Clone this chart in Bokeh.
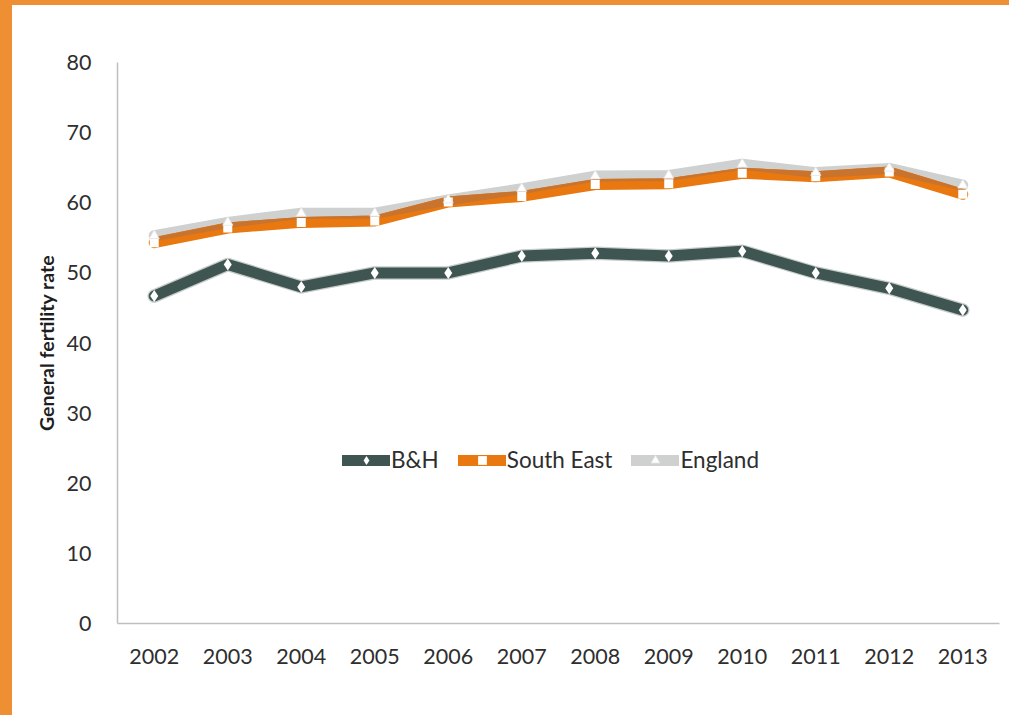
import numpy as np
from bokeh.plotting import figure
from bokeh.models import (ColumnDataSource, FactorRange, Range1d, Legend,
                          LegendItem, Div)
from bokeh.layouts import row, column
from bokeh.embed import file_html
from bokeh.resources import INLINE

# General fertility rate by year
years = ["2002", "2003", "2004", "2005", "2006", "2007",
         "2008", "2009", "2010", "2011", "2012", "2013"]
bh = [46.7, 51.2, 48.0, 50.0, 50.0, 52.4, 52.8, 52.4, 53.1, 50.0, 47.8, 44.7]
south_east = [54.3, 56.4, 57.2, 57.4, 60.1, 60.9, 62.6, 62.7, 64.2, 63.7, 64.4, 61.2]
england = [55.3, 57.2, 58.5, 58.5, 60.4, 62.0, 63.8, 63.9, 65.5, 64.3, 64.9, 62.5]
y_ticks = [0, 10, 20, 30, 40, 50, 60, 70, 80]

ORANGE_FRAME = "#ef8f34"
DARK = "#3f5551"
ORANGE = "#e8780f"
BROWN = "#c8742f"
GREY = "#cfd0d0"
FONT = "Lato"

W, H = 997, 710
B_LEFT, B_TOP, B_BOTTOM, B_RIGHT = 105, 57, 92, 10
LINE_W = 11

p = figure(width=W, height=H, x_range=FactorRange(*years, range_padding=0),
           y_range=Range1d(0, 80), output_backend="svg", toolbar_location=None,
           min_border_left=B_LEFT, min_border_top=B_TOP,
           min_border_bottom=B_BOTTOM, min_border_right=B_RIGHT, margin=0)
p.outline_line_color = None
p.xgrid.grid_line_color = None
p.ygrid.grid_line_color = None
p.background_fill_color = "white"
p.border_fill_color = "white"

src = ColumnDataSource(dict(year=years, bh=bh, se=south_east, eng=england))

# band where the England and South East lines overlap, in data units
px_per_unit = (H - B_TOP - B_BOTTOM) / 80.0
hw = (LINE_W / 2) / px_per_unit
se_arr = np.array(south_east)
eng_arr = np.array(england)
src.data["ov_lo"] = list(eng_arr - hw)
src.data["ov_hi"] = list(se_arr + hw)

eng_line = p.line("year", "eng", source=src, line_color=GREY, line_width=LINE_W,
                  line_join="round", line_cap="round")
se_line = p.line("year", "se", source=src, line_color=ORANGE, line_width=LINE_W,
                 line_join="round", line_cap="round")
p.varea(x="year", y1="ov_lo", y2="ov_hi", source=src, fill_color=BROWN)
se_pts = p.scatter("year", "se", source=src, marker="square", size=9,
                   fill_color="white", line_color=None)
eng_pts = p.scatter("year", "eng", source=src, marker="triangle", size=10,
                    fill_color="white", line_color="#e6e6e6", line_width=0.8)

# soft edge under the B&H line
p.line("year", "bh", source=src, line_color="#c6cccb", line_width=LINE_W + 2.5,
       line_join="round", line_cap="round")
bh_line = p.line("year", "bh", source=src, line_color=DARK, line_width=LINE_W,
                 line_join="round", line_cap="round")
bh_pts = p.scatter("year", "bh", source=src, marker="diamond", size=12,
                   fill_color="white", line_color=None)

for ax in (p.xaxis[0], p.yaxis[0]):
    ax.axis_line_color = "#bfbfbf"
    ax.axis_line_width = 1.5
    ax.major_tick_line_color = None
    ax.minor_tick_line_color = None
    ax.major_label_text_font = FONT
    ax.major_label_text_font_size = "21.5px"
    ax.major_label_text_color = "#2e2e2e"

p.yaxis.ticker = y_ticks
p.yaxis.major_label_standoff = 20
p.xaxis.major_label_standoff = 19
p.yaxis.axis_label = "General fertility rate"
p.yaxis.axis_label_text_font = FONT
p.yaxis.axis_label_text_font_size = "19.5px"
p.yaxis.axis_label_text_font_style = "bold"
p.yaxis.axis_label_text_color = "#1e1e1e"
p.yaxis.axis_label_standoff = 6

legend = Legend(items=[
    LegendItem(label="B&H", renderers=[bh_line, bh_pts]),
    LegendItem(label="South East", renderers=[se_line, se_pts]),
    LegendItem(label="England", renderers=[eng_line, eng_pts]),
], orientation="horizontal", location=(225, 150))
legend.glyph_width = 48
legend.glyph_height = 22
legend.label_standoff = 1
legend.spacing = 19
legend.padding = 0
legend.margin = 0
legend.border_line_color = None
legend.background_fill_alpha = 0
legend.label_text_font = FONT
legend.label_text_font_size = "22.5px"
legend.label_text_color = "#2e2e2e"
p.add_layout(legend)

left_bar = Div(text="", width=12, height=715, margin=0,
               styles={"background-color": ORANGE_FRAME})
top_bar = Div(text="", width=W, height=5, margin=0,
              styles={"background-color": ORANGE_FRAME})
page = row(left_bar, column(top_bar, p, spacing=0, margin=0), spacing=0, margin=0)

open("out.html", "w").write(file_html(page, INLINE))
